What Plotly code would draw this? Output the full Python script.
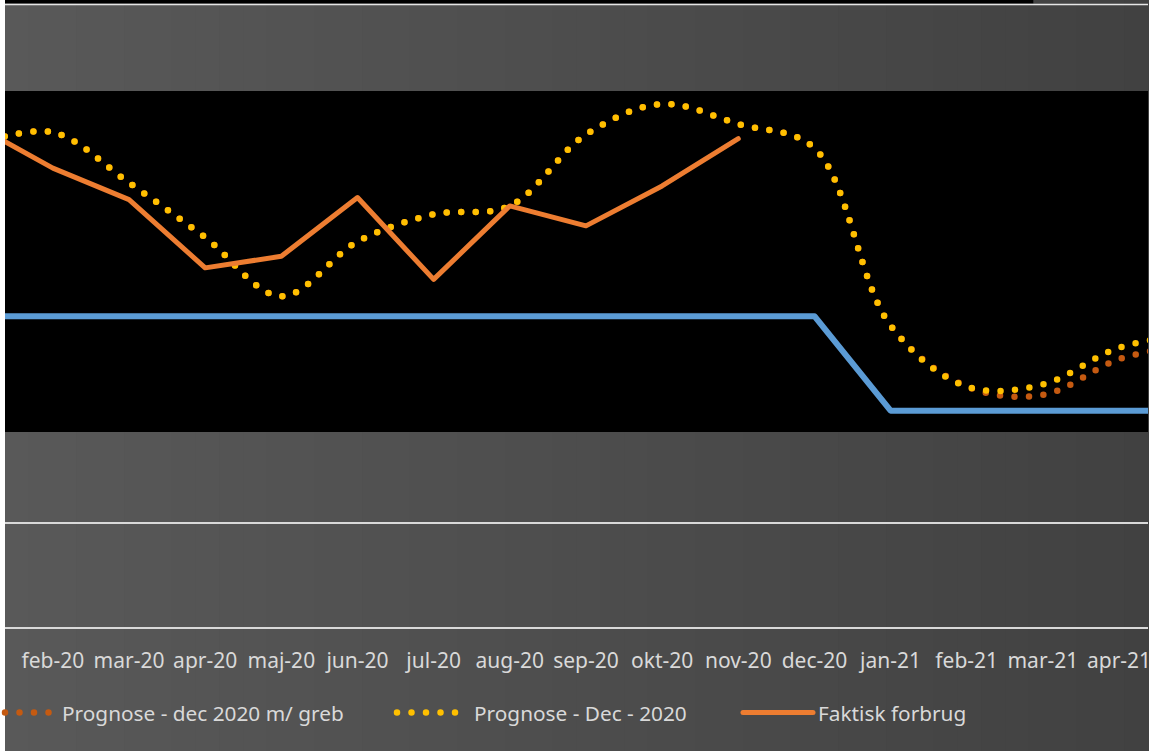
import plotly.graph_objects as go

W, H = 1151, 751
PLOT_L, PLOT_B = 5, 111          # plot area: x 5..1151, y 0..640 (px)

months = ["jan-20", "feb-20", "mar-20", "apr-20", "maj-20", "jun-20", "jul-20", "aug-20",
          "sep-20", "okt-20", "nov-20", "dec-20", "jan-21", "feb-21", "mar-21", "apr-21",
          "maj-21"]

faktisk = [478, 438, 408, 343, 354, 410, 332, 402, 383, 421, 466]
prognose_dec = [460, 472, 424, 372, 316, 368, 394, 402, 470, 499, 480, 457, 288, 230, 232, 267,
                280]
prognose_greb = [460, 472, 424, 372, 316, 368, 394, 402, 470, 499, 480, 457, 288, 230, 222, 256,
                 271]
budget = [297, 297, 297, 297, 297, 297, 297, 297, 297, 297, 297, 297, 207, 207, 207, 207, 207]

idx = list(range(len(months)))

DOT_DASH = "6px,8.5px"   # swapped for round dots in post_script


def px_x(px):
    return (px - PLOT_L) / (W - PLOT_L)


def px_y(py):
    return (H - PLOT_B - py) / (H - PLOT_B)


fig = go.Figure()
fig.add_trace(go.Scatter(x=idx[:len(budget)], y=budget, mode="lines", name="Budget",
                         showlegend=False, line=dict(color="#5B9BD5", width=6)))
fig.add_trace(go.Scatter(x=idx[:len(prognose_greb)], y=prognose_greb, mode="lines",
                         name="Prognose - dec 2020 m/ greb", legend="legend",
                         line=dict(color="#C55A11", width=6.5, dash=DOT_DASH,
                                   shape="spline", smoothing=1)))
fig.add_trace(go.Scatter(x=idx[:len(prognose_dec)], y=prognose_dec, mode="lines",
                         name="Prognose - Dec - 2020", legend="legend2",
                         line=dict(color="#FFC000", width=6.5, dash=DOT_DASH,
                                   shape="spline", smoothing=1)))
fig.add_trace(go.Scatter(x=idx[:len(faktisk)], y=faktisk, mode="lines",
                         name="Faktisk forbrug", legend="legend3",
                         line=dict(color="#ED7D31", width=5)))

# background: dark gradient, black plot band, top strip
shapes = []
n_strips = 48
for i in range(n_strips):
    t = i / (n_strips - 1)
    g = round(0x59 + (0x41 - 0x59) * t)
    x0 = PLOT_L + (W - PLOT_L) * i / n_strips
    x1 = PLOT_L + (W - PLOT_L) * (i + 1) / n_strips + 1
    shapes.append(dict(type="rect", xref="paper", yref="paper", layer="below",
                       x0=px_x(x0), x1=px_x(x1), y0=px_y(H), y1=px_y(0),
                       fillcolor=f"rgb({g},{g},{g})", line_width=0))
shapes.append(dict(type="rect", xref="paper", yref="paper", layer="below",
                   x0=0, x1=1, y0=px_y(432), y1=px_y(91), fillcolor="black", line_width=0))
shapes.append(dict(type="rect", xref="paper", yref="paper", layer="below",
                   x0=0, x1=px_x(1036), y0=px_y(3.6), y1=px_y(0), fillcolor="black", line_width=0))
shapes.append(dict(type="line", xref="paper", yref="paper", layer="below",
                   x0=0, x1=1, y0=px_y(4.5), y1=px_y(4.5), line=dict(color="#e6e6e6", width=1.5)))

legend_common = dict(orientation="h", xref="container", yref="container", yanchor="middle",
                     y=0.0506, bgcolor="rgba(0,0,0,0)",
                     font=dict(family="Noto Sans", size=20.8, color="#d9d9d9"))

fig.update_layout(
    width=W, height=H,
    margin=dict(l=PLOT_L, r=0, t=0, b=PLOT_B),
    paper_bgcolor="white",
    plot_bgcolor="rgba(0,0,0,0)",
    font=dict(family="Noto Sans", size=20, color="#d9d9d9"),
    shapes=shapes,
    xaxis=dict(range=[0.3714, 15.38], tickvals=idx, ticktext=months, showgrid=False,
               zeroline=False, showline=False, ticks="", ticklabelstandoff=6,
               ticklabeloverflow="allow",
               tickfont=dict(family="Noto Sans", size=21, color="#d9d9d9")),
    yaxis=dict(range=[-11.43, 598.1], tickvals=[0, 100], showticklabels=False,
               showgrid=True, gridcolor="#d9d9d9", gridwidth=2, zeroline=False,
               showline=False),
    legend=dict(legend_common, x=0, itemwidth=52),
    legend2=dict(legend_common, x=392 / W, itemwidth=72),
    legend3=dict(legend_common, x=738 / W, itemwidth=70),
)

post = """
document.body.style.margin = '0';
var gd = document.getElementById('{plot_id}');
gd.querySelectorAll('path.js-line').forEach(function (p) {
    p.style.strokeLinecap = 'round';
    p.style.strokeLinejoin = 'round';
    if (p.style.strokeDasharray && p.style.strokeDasharray.indexOf('8.5') >= 0) {
        p.style.strokeDasharray = '0px, 14.5px';
    }
});
"""

fig.write_html("out.html", post_script=post, config={"displayModeBar": False})
